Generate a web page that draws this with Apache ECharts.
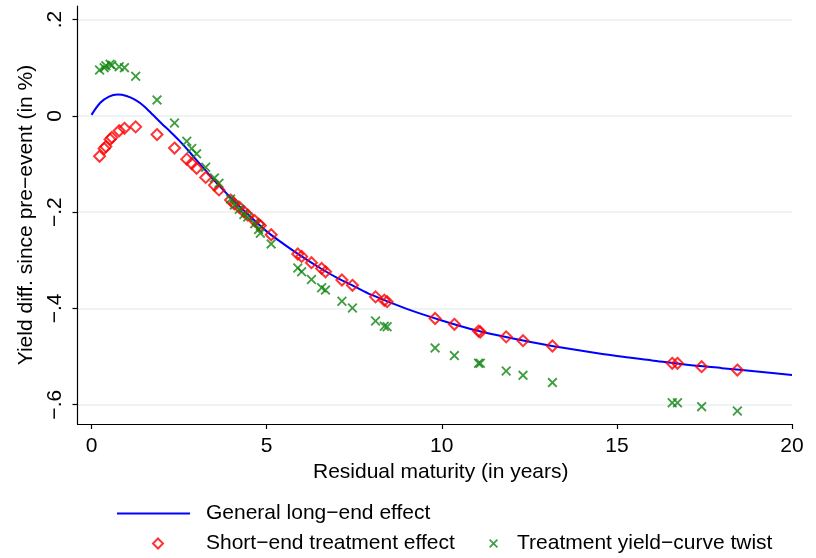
<!DOCTYPE html>
<html>
<head>
<meta charset="utf-8">
<script src="https://cdn.jsdelivr.net/npm/echarts@6/dist/echarts.min.js"></script>
<style>
  html, body { margin: 0; padding: 0; background: #fff; }
  #chart { width: 816px; height: 558px; }
</style>
</head>
<body>
<div id="chart"></div>
<script>
// Residual maturity of each bond (years)
const maturity = [0.23, 0.36, 0.41, 0.53, 0.58, 0.79, 0.94, 1.26, 1.87, 2.37, 2.72, 2.86, 3.00, 3.26, 3.51, 3.64,
  3.97, 4.08, 4.22, 4.35, 4.46, 4.66, 4.77, 4.82, 5.13, 5.89, 6.00, 6.28, 6.57, 6.68, 7.15, 7.45, 8.11, 8.36, 8.44,
  9.81, 10.36, 11.05, 11.10, 11.84, 12.32, 13.16, 16.58, 16.73, 17.42, 18.44];
// Short-end treatment effect (yield difference, %)
const shortEnd = [-0.084, -0.068, -0.064, -0.049, -0.045, -0.031, -0.026, -0.023, -0.039, -0.067, -0.090, -0.099, -0.109, -0.128, -0.144, -0.154,
  -0.175, -0.183, -0.190, -0.199, -0.206, -0.218, -0.225, -0.228, -0.247, -0.287, -0.292, -0.305, -0.317, -0.324, -0.341, -0.352, -0.376, -0.383, -0.386,
  -0.421, -0.433, -0.447, -0.449, -0.459, -0.467, -0.478, -0.514, -0.514, -0.521, -0.528];
// Treatment yield-curve twist (yield difference, %)
const twist = [0.095, 0.100, 0.104, 0.107, 0.105, 0.102, 0.100, 0.082, 0.033, -0.015, -0.053, -0.068, -0.079, -0.107, -0.129, -0.140,
  -0.173, -0.185, -0.194, -0.205, -0.210, -0.224, -0.236, -0.244, -0.266, -0.316, -0.324, -0.340, -0.357, -0.362, -0.385, -0.399, -0.426, -0.437, -0.438,
  -0.482, -0.498, -0.514, -0.514, -0.530, -0.539, -0.554, -0.596, -0.596, -0.604, -0.613];
// General long-end effect curve
const curveX = [0, 0.25, 0.5, 0.75, 1.0, 1.25, 1.5, 1.75, 2.0, 2.25, 2.5, 2.75, 3.0, 3.25, 3.5, 3.75, 4.0, 4.5, 5.0, 5.5,
  6.0, 6.5, 7.0, 7.5, 8.0, 9.0, 10.0, 11.0, 12.0, 13.0, 14.0, 15.0, 16.0, 17.0, 18.0, 19.0, 20.0];
const curveY = [0.002, 0.027, 0.040, 0.044, 0.041, 0.033, 0.020, 0.002, -0.016, -0.033, -0.051, -0.071, -0.092, -0.113, -0.134, -0.153, -0.172, -0.207, -0.240, -0.267,
  -0.292, -0.315, -0.336, -0.354, -0.372, -0.401, -0.425, -0.446, -0.462, -0.476, -0.488, -0.499, -0.508, -0.517, -0.524, -0.531, -0.538];
// Axis ticks
const xTicks = [0, 5, 10, 15, 20];
const yTicks = [-0.6, -0.4, -0.2, 0, 0.2];

const NAMES = ['General long\u2212end effect', 'Short\u2212end treatment effect', 'Treatment yield\u2212curve twist'];
const FONT = 'Liberation Sans, Arial, Helvetica, sans-serif';
const RED = '#ff0000', GREEN = '#0e840e', BLUE = '#0000ff';
const CROSS = 'path://M0,1.3L1.3,0L5,3.7L8.7,0L10,1.3L6.3,5L10,8.7L8.7,10L5,6.3L1.3,10L0,8.7L3.7,5Z';

const zip = (xs, ys) => xs.map((x, i) => [x, ys[i]]);
const fmtY = v => {
  const r = Math.round(v * 10) / 10;
  if (r === 0) return '0';
  return (r < 0 ? '\u2212' : '') + String(Math.abs(r)).replace(/^0/, '');
};
const legendText = pad => ({ fontFamily: FONT, fontSize: 21, color: '#000', padding: [0, 0, 0, pad] });

const chart = echarts.init(document.getElementById('chart'), null, { renderer: 'canvas' });
chart.setOption({
  animation: false,
  backgroundColor: '#ffffff',
  grid: { left: 77.5, right: 24, top: 6, bottom: 134, containLabel: false },
  xAxis: {
    type: 'value', min: -0.4, max: 20,
    name: 'Residual maturity (in years)', nameLocation: 'middle', nameGap: 34,
    nameTextStyle: { fontFamily: FONT, fontSize: 21, color: '#000', verticalAlign: 'top', padding: [0, 0, 0, 12] },
    axisLine: { show: true, onZero: false, lineStyle: { color: '#000', width: 1.2 } },
    axisTick: { show: true, customValues: xTicks, length: 5, lineStyle: { color: '#000', width: 1.2 } },
    axisLabel: { customValues: xTicks, margin: 12, fontFamily: FONT, fontSize: 21, color: '#000' },
    splitLine: { show: false }
  },
  yAxis: {
    type: 'value', min: -0.64, max: 0.228,
    name: 'Yield diff. since pre\u2212event (in %)', nameLocation: 'middle', nameGap: 33,
    nameTextStyle: { fontFamily: FONT, fontSize: 21, color: '#000' },
    axisLine: { show: true, onZero: false, lineStyle: { color: '#000', width: 1.2 } },
    axisTick: { show: true, customValues: yTicks, length: 5, lineStyle: { color: '#000', width: 1.2 } },
    axisLabel: { customValues: yTicks, rotate: 90, margin: 12, fontFamily: FONT, fontSize: 21, color: '#000', formatter: fmtY },
    splitLine: { show: true, lineStyle: { color: '#e9eff2', width: 1.5 } }
  },
  legend: [
    { data: [{ name: NAMES[0], icon: 'rect' }], left: 112, top: 498, itemWidth: 73, itemHeight: 2,
      itemStyle: { color: BLUE }, textStyle: legendText(11), selectedMode: false },
    { data: [{ name: NAMES[1], icon: 'diamond' }], left: 147, top: 528, itemWidth: 10, itemHeight: 10,
      textStyle: legendText(38), selectedMode: false },
    { data: [{ name: NAMES[2], icon: CROSS }], left: 484, top: 528, itemWidth: 9, itemHeight: 9,
      textStyle: legendText(14), selectedMode: false }
  ],
  series: [
    { name: NAMES[0], type: 'line', data: zip(curveX, curveY), smooth: 0.3, showSymbol: false,
      lineStyle: { color: BLUE, width: 2 }, itemStyle: { color: BLUE }, z: 2 },
    { name: NAMES[1], type: 'scatter', data: zip(maturity, shortEnd), symbol: 'diamond', symbolSize: 11,
      itemStyle: { color: 'rgba(255,255,255,0)', borderColor: RED, borderWidth: 2 }, z: 3 },
    { name: NAMES[2], type: 'scatter', data: zip(maturity, twist), symbol: CROSS, symbolSize: 10,
      itemStyle: { color: GREEN }, z: 4 }
  ]
});
</script>
</body>
</html>
